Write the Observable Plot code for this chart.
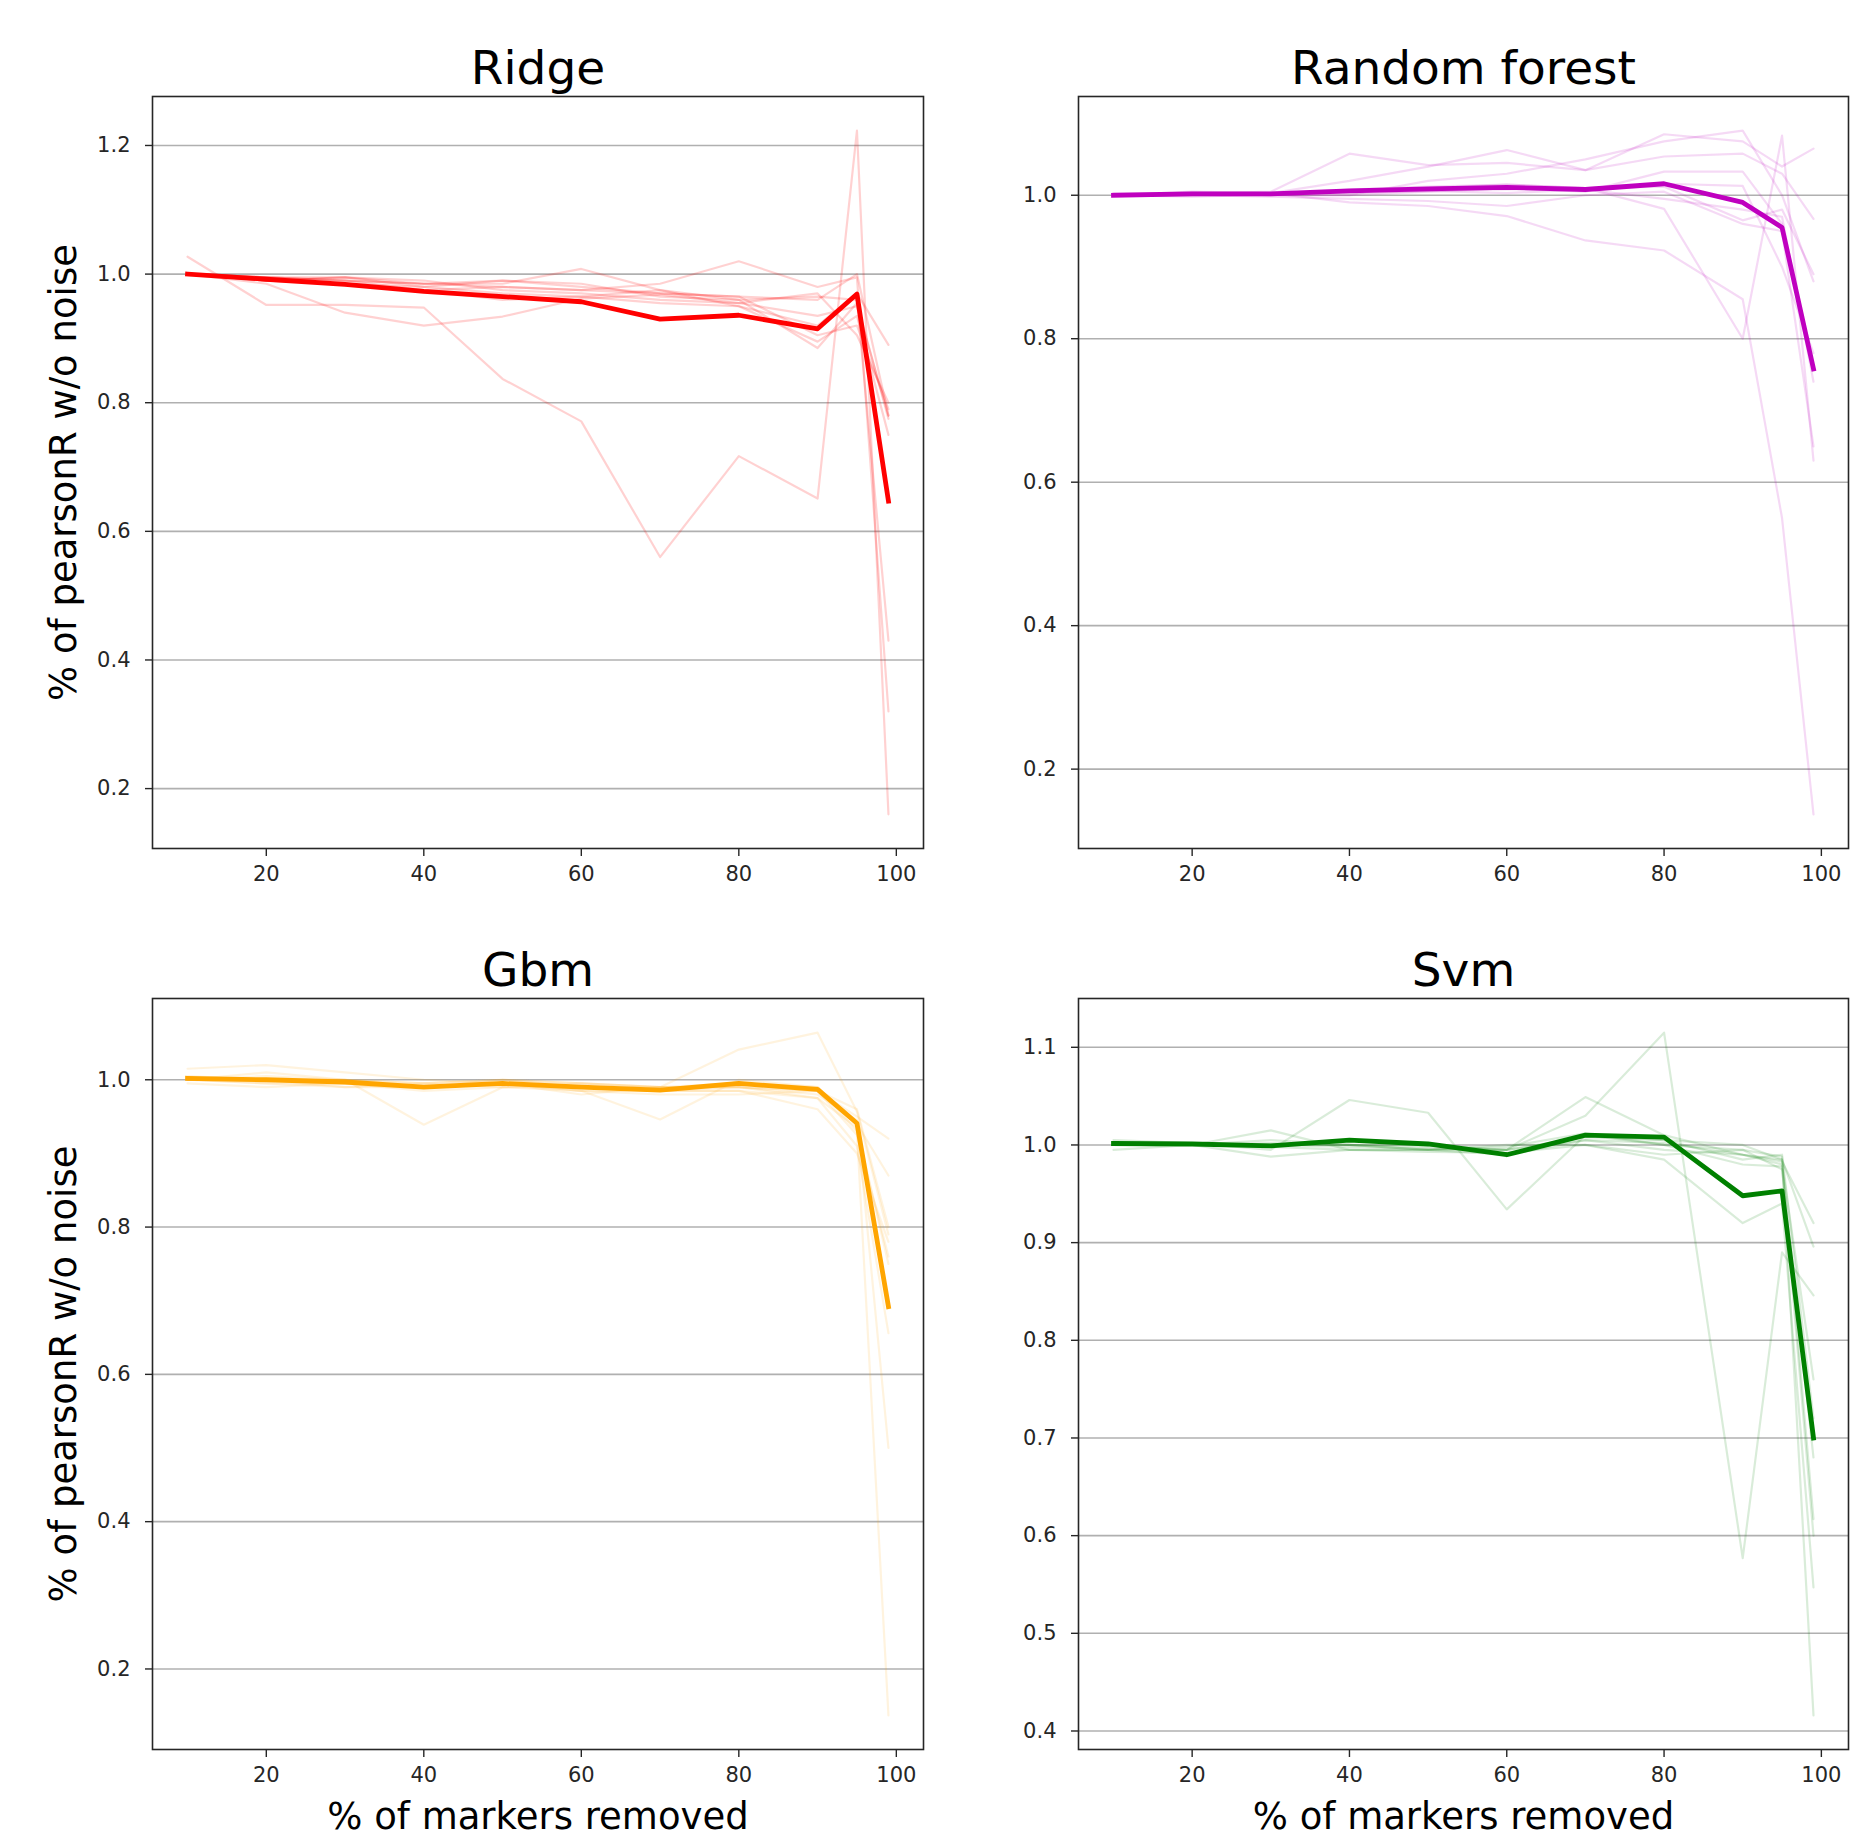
<!DOCTYPE html>
<html>
<head>
<meta charset="utf-8">
<script src="https://cdn.jsdelivr.net/npm/d3@7"></script>
<script src="https://cdn.jsdelivr.net/npm/@observablehq/plot@0.6"></script>
<style>
  html, body { margin: 0; padding: 0; background: white; }
  #root { position: relative; width: 1868px; height: 1837px; background: white; overflow: hidden; }
  #root > * { position: absolute; }
</style>
</head>
<body>
<div id="root"></div>
<script>
// ---- data ----
const xs = [10, 20, 30, 40, 50, 60, 70, 80, 90, 95, 99];
const xTicks = [20, 40, 60, 80, 100];

const ridgeMean = [1.000, 0.992, 0.984, 0.973, 0.965, 0.957, 0.930, 0.936, 0.915, 0.969, 0.647];
const ridgeRuns = [
  [1.027, 0.952, 0.952, 0.948, 0.837, 0.771, 0.560, 0.717, 0.651, 1.223, 0.160],
  [1.000, 0.985, 0.940, 0.920, 0.934, 0.962, 0.968, 0.955, 0.935, 0.950, 0.780],
  [1.000, 0.990, 0.995, 0.985, 0.985, 1.008, 0.975, 0.950, 0.920, 0.970, 0.890],
  [1.000, 0.995, 0.990, 0.975, 0.980, 0.975, 0.985, 1.020, 0.980, 0.995, 0.320],
  [1.000, 0.990, 0.985, 0.980, 0.990, 0.985, 0.965, 0.960, 0.965, 0.960, 0.430],
  [1.000, 0.995, 0.995, 0.990, 0.975, 0.970, 0.960, 0.955, 0.970, 0.905, 0.800],
  [1.000, 0.990, 0.985, 0.975, 0.960, 0.965, 0.955, 0.950, 0.895, 0.935, 0.750],
  [1.000, 0.995, 0.990, 0.985, 0.990, 0.980, 0.970, 0.965, 0.905, 0.920, 0.790],
  [1.000, 0.990, 0.995, 0.980, 0.970, 0.965, 0.975, 0.960, 0.885, 0.955, 0.775],
  [1.000, 0.995, 0.990, 0.985, 0.980, 0.975, 0.970, 0.965, 0.960, 1.000, 0.780]
];

const rfMean = [1.000, 1.002, 1.002, 1.006, 1.009, 1.011, 1.008, 1.016, 0.990, 0.955, 0.758];
const rfRuns = [
  [1.000, 1.005, 1.003, 0.990, 0.985, 0.971, 0.937, 0.923, 0.855, 0.550, 0.137],
  [1.000, 1.002, 1.005, 1.058, 1.042, 1.045, 1.035, 1.054, 1.058, 1.030, 0.967],
  [1.000, 1.000, 1.003, 1.020, 1.040, 1.063, 1.035, 1.085, 1.075, 1.040, 1.065],
  [1.000, 1.003, 1.000, 1.000, 1.020, 1.030, 1.050, 1.075, 1.090, 1.000, 0.880],
  [1.000, 1.001, 1.002, 1.005, 1.010, 1.015, 1.010, 0.981, 0.800, 1.083, 0.630],
  [1.000, 1.002, 1.000, 1.000, 1.005, 1.010, 1.005, 1.033, 1.033, 0.960, 0.760],
  [1.000, 1.000, 0.998, 0.995, 0.992, 0.985, 1.000, 1.005, 0.960, 0.950, 0.650],
  [1.000, 1.004, 1.002, 1.008, 1.012, 1.015, 1.010, 1.016, 1.013, 0.900, 0.780],
  [1.000, 0.998, 1.001, 1.003, 1.006, 1.003, 1.008, 0.995, 0.980, 0.970, 0.740],
  [1.000, 1.002, 1.003, 1.004, 1.006, 1.008, 1.010, 1.012, 0.965, 0.980, 0.890]
];

const gbmMean = [1.002, 1.000, 0.997, 0.990, 0.995, 0.990, 0.986, 0.995, 0.987, 0.941, 0.692];
const gbmRuns = [
  [1.000, 1.010, 1.000, 0.939, 0.990, 0.985, 0.946, 1.000, 0.990, 0.930, 0.137],
  [1.015, 1.020, 1.010, 1.000, 0.995, 0.980, 0.990, 1.041, 1.064, 0.957, 0.790],
  [1.000, 0.995, 0.990, 0.995, 1.000, 0.995, 0.990, 0.990, 0.985, 0.950, 0.920],
  [1.000, 1.000, 0.995, 0.990, 0.995, 0.990, 0.985, 0.985, 0.975, 0.910, 0.656],
  [0.995, 0.990, 0.995, 0.985, 0.990, 0.995, 0.990, 0.990, 0.980, 0.945, 0.500],
  [1.000, 1.005, 1.000, 0.995, 1.000, 0.990, 0.985, 0.985, 0.960, 0.900, 0.780],
  [1.000, 1.000, 0.990, 0.990, 0.995, 0.985, 0.980, 0.980, 0.985, 0.925, 0.760],
  [1.005, 1.000, 1.000, 0.995, 0.990, 0.990, 0.990, 0.995, 0.990, 0.940, 0.870],
  [1.000, 0.995, 0.995, 0.990, 0.995, 0.985, 0.985, 0.990, 0.975, 0.935, 0.750],
  [1.000, 1.000, 1.000, 0.990, 1.000, 0.995, 0.990, 0.990, 0.985, 0.960, 0.800]
];

const svmMean = [1.0015, 1.001, 0.999, 1.005, 1.001, 0.990, 1.010, 1.008, 0.948, 0.953, 0.700];
const svmRuns = [
  [1.000, 1.000, 1.015, 0.995, 0.995, 0.995, 1.030, 1.115, 0.577, 0.890, 0.846],
  [1.000, 1.002, 0.995, 1.046, 1.033, 0.934, 1.010, 1.005, 1.000, 0.985, 0.896],
  [0.995, 1.000, 1.000, 1.000, 1.000, 0.995, 1.049, 1.010, 0.990, 0.985, 0.617],
  [1.000, 1.000, 0.988, 0.995, 0.995, 1.000, 1.000, 0.985, 0.920, 0.940, 0.547],
  [1.000, 1.000, 1.000, 1.005, 1.000, 0.990, 1.010, 1.000, 0.995, 0.988, 0.416],
  [1.005, 1.002, 1.000, 1.000, 0.995, 0.990, 1.005, 0.995, 0.990, 0.980, 0.760],
  [1.000, 1.000, 1.005, 1.000, 0.998, 0.995, 1.008, 1.005, 0.985, 0.990, 0.720],
  [1.000, 1.001, 0.998, 0.995, 0.993, 0.992, 1.000, 0.990, 0.995, 0.975, 0.680],
  [1.000, 1.000, 1.002, 1.000, 0.995, 0.998, 1.012, 1.000, 0.980, 0.978, 0.600],
  [1.000, 1.000, 1.000, 0.998, 0.996, 0.995, 1.005, 1.002, 0.990, 0.983, 0.920]
];

const ticks02 = [0.2, 0.4, 0.6, 0.8, 1.0, 1.2];
const ticksSvm = [0.4, 0.5, 0.6, 0.7, 0.8, 0.9, 1.0, 1.1];

const titles = ["Ridge", "Random forest", "Gbm", "Svm"];
const colors = ["red", "#bf00bf", "orange", "green"];
const yLabel = "% of pearsonR w/o noise";
const xLabel = "% of markers removed";

// ---- drawing ----
function panel(cfg) {
  const rows = cfg.runs.flatMap((r, i) => r.map((v, j) => ({x: xs[j], y: v, run: i})));
  const meanRows = cfg.mean.map((v, j) => ({x: xs[j], y: v}));
  const all = cfg.runs.flat().concat(cfg.mean);
  const lo = d3.min(all), hi = d3.max(all), pad = (hi - lo) * 0.05;
  const xlo = d3.min(xs), xhi = d3.max(xs), xpad = (xhi - xlo) * 0.05;
  const yt = cfg.yTicks.filter(t => t >= lo - pad && t <= hi + pad);
  const marks = [
    Plot.gridY(yt, {stroke: "#b0b0b0", strokeOpacity: 1, strokeWidth: 1.6}),
    Plot.line(rows, {x: "x", y: "y", z: "run", stroke: cfg.color, strokeOpacity: cfg.alpha, strokeWidth: 2.2}),
    Plot.line(meanRows, {x: "x", y: "y", stroke: cfg.color, strokeWidth: 4.8, strokeLinecap: "square", strokeLinejoin: "round"}),
    Plot.frame({stroke: "#262626", strokeWidth: 1.6}),
    Plot.axisY(yt, {tickSize: 7, tickPadding: 15, tickFormat: d3.format(".1f"), fontSize: 21, label: null, stroke: "#262626", strokeWidth: 1.4}),
    Plot.axisX(xTicks, {tickSize: 8, tickPadding: 10, tickFormat: d => String(d), fontSize: 21, label: null, stroke: "#262626", strokeWidth: 1.4}),
    Plot.text([cfg.title], {text: d => d, frameAnchor: "top", lineAnchor: "bottom", dy: -13, fontSize: 47, fill: "black"})
  ];
  if (cfg.showY) marks.push(Plot.text([yLabel], {text: d => d, frameAnchor: "left", textAnchor: "middle", rotate: -90, lineAnchor: "bottom", dx: -77, fontSize: 37, fill: "black"}));
  if (cfg.showX) marks.push(Plot.text([xLabel], {text: d => d, frameAnchor: "bottom", textAnchor: "middle", lineAnchor: "bottom", dy: 79, fontSize: 37, fill: "black"}));
  const svg = Plot.plot({
    width: 934, height: cfg.height,
    marginLeft: cfg.ml, marginRight: cfg.mr, marginTop: cfg.mt, marginBottom: cfg.mb,
    x: {domain: [xlo - xpad, xhi + xpad], label: null},
    y: {domain: [lo - pad, hi + pad], label: null},
    style: {fontFamily: "'DejaVu Sans', sans-serif", fontSize: "21px", color: "#262626", background: "white", overflow: "visible"},
    marks
  });
  svg.style.left = cfg.left + "px";
  svg.style.top = cfg.top + "px";
  return svg;
}

const root = document.getElementById("root");
const panels = [
  {title: titles[0], color: colors[0], alpha: 0.18, mean: ridgeMean, runs: ridgeRuns, yTicks: ticks02, showY: true, showX: false,
   left: 0, top: 0, height: 918, ml: 152, mr: 11, mt: 96, mb: 70},
  {title: titles[1], color: colors[1], alpha: 0.15, mean: rfMean, runs: rfRuns, yTicks: ticks02, showY: false, showX: false,
   left: 934, top: 0, height: 918, ml: 144, mr: 20, mt: 96, mb: 70},
  {title: titles[2], color: colors[2], alpha: 0.13, mean: gbmMean, runs: gbmRuns, yTicks: ticks02, showY: true, showX: true,
   left: 0, top: 918, height: 919, ml: 152, mr: 11, mt: 80, mb: 88},
  {title: titles[3], color: colors[3], alpha: 0.15, mean: svmMean, runs: svmRuns, yTicks: ticksSvm, showY: false, showX: true,
   left: 934, top: 918, height: 919, ml: 144, mr: 20, mt: 80, mb: 88}
];
for (const p of panels) root.appendChild(panel(p));
</script>
</body>
</html>
